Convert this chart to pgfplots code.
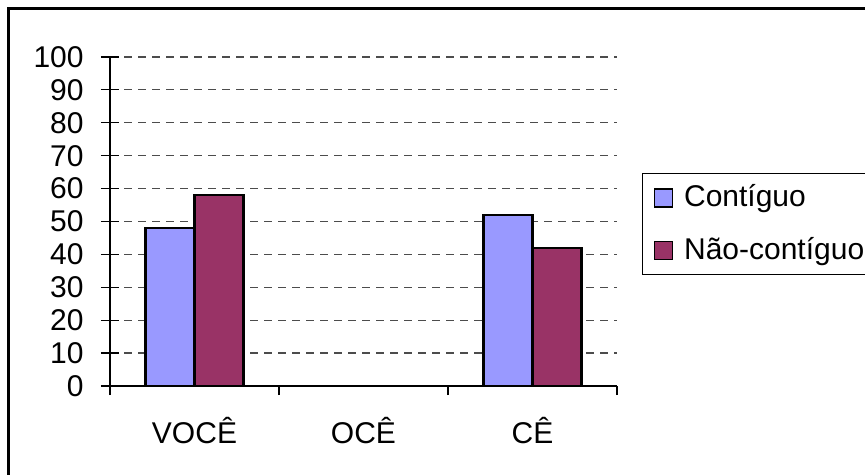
\documentclass[border=0pt]{standalone}
\usepackage{pgfplots}
\pgfplotsset{compat=1.18}
\usepackage{fontspec}
\setmainfont{Liberation Sans}
\definecolor{cont}{HTML}{9999FF}
\definecolor{nao}{HTML}{993366}
\begin{document}
\fontsize{15pt}{18pt}\selectfont
\begin{tikzpicture}
\useasboundingbox (0,0) rectangle (432.5pt,237.5pt);
\draw[line width=1.4pt] (4.15pt,-5pt) -- (4.15pt,233.35pt) -- (440pt,233.35pt);
\begin{axis}[
 at={(55pt,44.5pt)}, anchor=south west,
 scale only axis, width=253.5pt, height=164.5pt,
 xmin=-0.5, xmax=2.5, ymin=0, ymax=100,
 axis lines=left, axis line style={-, line width=0.6pt},
 ybar=0pt, bar width=24.5pt,
 xtick={0,1,2}, xticklabels={VOCÊ,OCÊ,CÊ},
 minor xtick={-0.5,0.5,1.5,2.5},
 ytick={0,10,...,100},
 xtick align=outside, ytick align=center,
 major tick length=9pt, minor tick length=4.5pt,
 tick style={black, line width=0.6pt},
 major x tick style={draw=none},
 ymajorgrids, grid style={black!70, line width=0.6pt, dash pattern=on 4pt off 3pt},
 /pgf/number format/assume math mode=true,
 tick label style={font=\fontsize{15pt}{18pt}\selectfont},
 yticklabel style={xshift=-3.5pt},
 xticklabel style={yshift=-1.5pt},
 legend style={at={(1.0493,0.6474)}, anchor=north west, draw=black, line width=0.5pt,
   inner xsep=5.5pt, inner ysep=5.5pt, row sep=13pt, column sep=5.5pt,
   font=\fontsize{15pt}{18pt}\selectfont,
   nodes={inner sep=0pt}},
 legend cell align=left,
 legend image code/.code={\draw[#1, draw=black, line width=0.8pt] (0pt,-4.5pt) rectangle (9pt,4.5pt);},
]
\addplot[fill=cont, draw=black, line width=1.2pt] coordinates {(0,48) (2,52)};
\addplot[fill=nao, draw=black, line width=1.2pt] coordinates {(0,58) (2,42)};
\legend{Contíguo, Não-contíguo}
\end{axis}
\end{tikzpicture}
\end{document}
